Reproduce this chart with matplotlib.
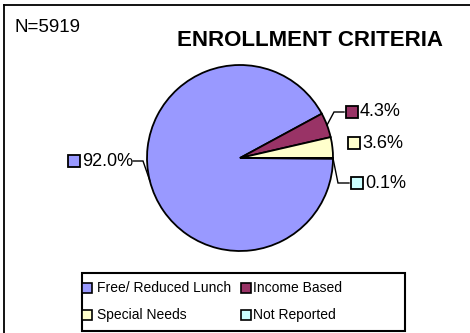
# -*- coding:utf-8 -*-

import numpy as np
import matplotlib.pyplot as plt
from matplotlib.patches import Rectangle

plt.rcParams['font.family'] = ['Liberation Sans', 'DejaVu Sans']

# Data
categories = ['Free/ Reduced Lunch', 'Income Based', 'Special Needs', 'Not Reported']
shares = [92.0, 4.3, 3.6, 0.1]
colors = ['#9999FF', '#993366', '#FFFFCC', '#CCFFFF']
total_n = 5919

# Canvas in pixel units (y up)
W, H = 470, 333
fig = plt.figure(figsize=(W / 100, H / 100), dpi=100)
ax = fig.add_axes([0, 0, 1, 1])

cx, cy, r = 240, H - 158, 93
wedges, _ = ax.pie(shares, colors=colors, startangle=-0.36, counterclock=False,
                   center=(cx, cy), radius=r,
                   wedgeprops=dict(edgecolor='black', linewidth=1.3))
ax.set_xlim(0, W)
ax.set_ylim(0, H)
ax.set_aspect('equal')
ax.axis('off')

# Outer frame (image cropped at right/bottom)
ax.plot([4, W], [H - 5, H - 5], color='black', lw=1.3)
ax.plot([4, 4], [H - 5, 0], color='black', lw=1.3)

# Data labels: (text x, text y, leader elbow or None)
label_pos = [(82, H - 161, (143, H - 161)),
             (360, H - 112, (334, H - 112)),
             (362, H - 143, None),
             (365, H - 183, (338, H - 183))]

for w, val, col, (tx, ty, elbow) in zip(wedges, shares, colors, label_pos):
    mid = np.deg2rad((w.theta1 + w.theta2) / 2)
    ex, ey = cx + r * np.cos(mid), cy + r * np.sin(mid)
    if elbow is not None:
        end_x = tx + 51 if tx < cx else tx - 16
        ax.plot([ex, elbow[0], end_x], [ey, elbow[1], elbow[1]],
                color='black', lw=1.0, solid_joinstyle='miter')
    ax.plot(tx - 8, ty, marker='s', ms=8.5, mfc=col, mec='black', mew=1.3)
    ax.text(tx, ty, f'{val:.1f}%', fontsize=13, ha='left', va='center')

ax.text(14, H - 27, f'N={total_n}', fontsize=13.5, ha='left', va='center')
ax.text(310, H - 41, 'ENROLLMENT CRITERIA', fontsize=16, fontweight='bold',
        ha='center', va='center')

# Legend (drawn as a boxed 2x2 grid)
ax.add_patch(Rectangle((82, H - 331), 323, 58, fill=False, ec='black', lw=1.5))
leg_cells = [(87, H - 288, 97), (246, H - 288, 253),
             (87, H - 315, 97), (246, H - 315, 253)]
for name, col, (lx, ly, lt) in zip(categories, colors, leg_cells):
    ax.plot(lx, ly, marker='s', ms=6.5, mfc=col, mec='black', mew=1.2)
    ax.text(lt, ly, name, fontsize=10, ha='left', va='center')

plt.savefig('out.png', dpi=100)
